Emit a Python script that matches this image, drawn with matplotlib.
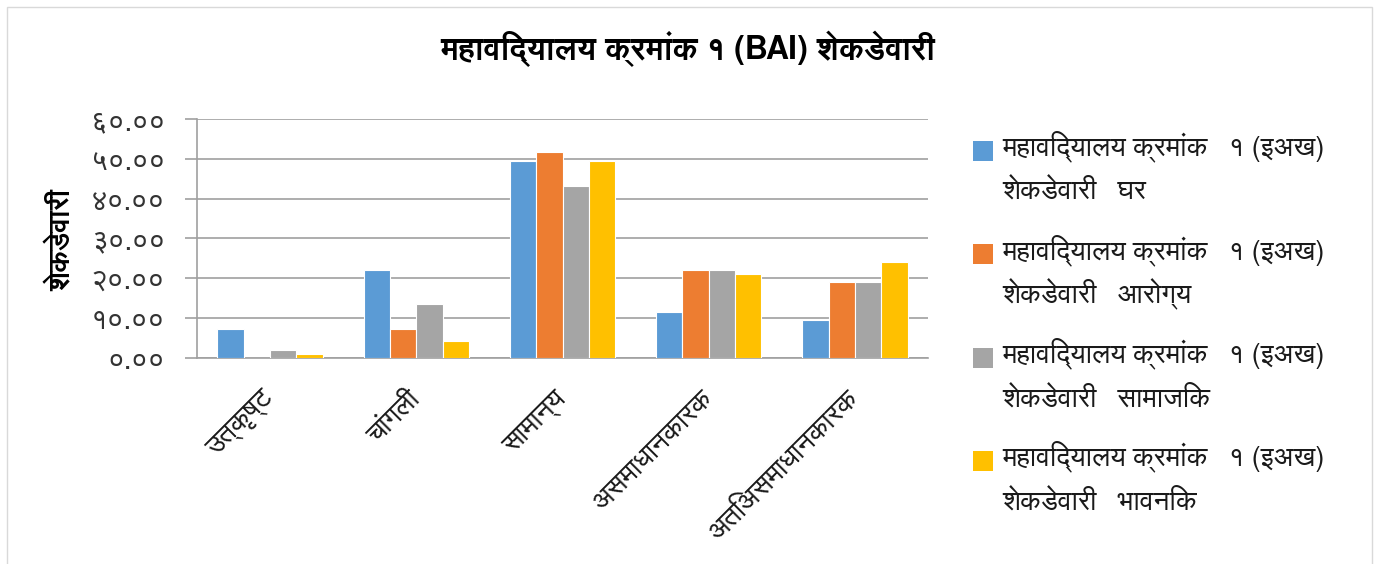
import matplotlib
matplotlib.use("Agg")
import matplotlib.pyplot as plt
import numpy as np
from matplotlib import font_manager as fm
from matplotlib.patches import Rectangle

# ---------------- data ----------------
categories = ["उत्कृष्ट", "चांगली", "सामान्य", "असमाधानकारक", "अतिअसमाधानकारक"]
series_names = [
    "महाविद्यालय क्रमांक   १ (इअख)\nशेकडेवारी   घर",
    "महाविद्यालय क्रमांक   १ (इअख)\nशेकडेवारी   आरोग्य",
    "महाविद्यालय क्रमांक   १ (इअख)\nशेकडेवारी   सामाजिक",
    "महाविद्यालय क्रमांक   १ (इअख)\nशेकडेवारी   भावनिक",
]
ghar = [7.3, 22.0, 49.4, 11.5, 9.5]
arogya = [0.0, 7.3, 51.6, 22.0, 19.0]
samajik = [2.0, 13.6, 43.1, 22.0, 19.0]
bhavanik = [1.0, 4.1, 49.4, 21.0, 24.1]
yticks = [0, 10, 20, 30, 40, 50, 60]
ytick_labels = ["०.००", "१०.००", "२०.००", "३०.००", "४०.००", "५०.००", "६०.००"]
title = "महाविद्यालय क्रमांक १ (BAI) शेकडेवारी"
ylabel = "शेकडेवारी"
colors = ["#5B9BD5", "#ED7D31", "#A5A5A5", "#FFC000"]

# ---------------- fonts ----------------
names = {f.name for f in fm.fontManager.ttflist}
deva = None
for cand in ["FreeSans", "FreeSerif"]:
    if cand in names:
        deva = cand
        break
families = [deva, "DejaVu Sans"] if deva else ["DejaVu Sans"]
plt.rcParams["font.family"] = families

# ---------------- figure ----------------
W, H = 1386, 564
fig = plt.figure(figsize=(W / 100, H / 100), dpi=100)
fig.patches.append(Rectangle((7 / W, -0.01), (1372 - 7) / W, 1 - 7 / H + 0.01,
                             transform=fig.transFigure, fill=False,
                             edgecolor="#D9D9D9", linewidth=1))

ax = fig.add_axes([197 / W, 1 - 357.7 / H, (928 - 197) / W, (357.7 - 119) / H])

data = [ghar, arogya, samajik, bhavanik]
x = np.arange(len(categories))
bw = 0.18
for i, (vals, c, name) in enumerate(zip(data, colors, series_names)):
    ax.bar(x + (i - 1.5) * bw, vals, width=bw, color=c, edgecolor="white",
           linewidth=0.8, label=name, zorder=3)

ax.set_xlim(-0.5, len(categories) - 0.5)
ax.set_ylim(0, 60)
ax.set_yticks(yticks)
ax.set_yticklabels(ytick_labels, fontsize=21, color="#333333")
ax.yaxis.grid(True, color="#A0A0A0", linewidth=1.2, zorder=0)
ax.tick_params(axis="y", length=9, color="#A0A0A0", width=1.2, pad=14)
ax.tick_params(axis="x", length=0, pad=27)
ax.set_xticks(x)
ax.set_xticklabels(categories, rotation=45, ha="right", va="center",
                   rotation_mode="anchor", fontsize=20, color="#1a1a1a")
for s in ["top", "right"]:
    ax.spines[s].set_visible(False)
ax.spines["left"].set_color("#A0A0A0")
ax.spines["bottom"].set_color("#A0A0A0")
ax.spines["left"].set_linewidth(1.2)
ax.spines["bottom"].set_linewidth(1.2)

fig.text(62 / W, 1 - 240 / H, ylabel, rotation=90, ha="center", va="center",
         fontsize=20, fontweight="bold", color="black")
fig.text(688 / W, 1 - 49 / H, title, ha="center", va="center",
         fontsize=23, fontweight="bold", color="black")

# legend (square aligned with the first text line, as in the reference)
pitch = 103.3
for i, (name, c) in enumerate(zip(series_names, colors)):
    y0 = 151 + pitch * i
    fig.patches.append(Rectangle((973 / W, 1 - (y0 + 10) / H), 20 / W, 20 / H,
                                 transform=fig.transFigure, facecolor=c,
                                 edgecolor="none"))
    line1, line2 = name.split("\n")
    fig.text(1002.7 / W, 1 - (155.7 + pitch * i) / H, line1, ha="left",
             va="baseline", fontsize=20, color="#1a1a1a")
    fig.text(1002.7 / W, 1 - (200 + pitch * i) / H, line2, ha="left",
             va="baseline", fontsize=20, color="#1a1a1a")

fig.savefig("out.png", dpi=100)
